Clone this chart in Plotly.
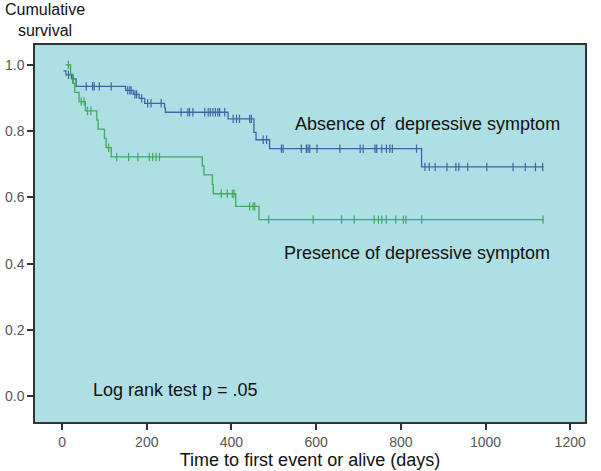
import plotly.graph_objects as go

# ---- Data ----
# Absence of depressive symptom (blue): step times (days) and survival after each step
absent_times = [3, 9, 22, 33, 150, 168, 182, 195, 242, 244, 392, 453, 458, 490, 849]
absent_surv = [0.982, 0.970, 0.958, 0.935, 0.923, 0.911, 0.899, 0.884, 0.870, 0.857,
               0.837, 0.796, 0.774, 0.747, 0.692]
absent_end = 1137
absent_censored = [15, 26, 57, 72, 76, 88, 116, 155, 160, 163, 172, 176, 188, 202, 210, 234,
                   281, 297, 301, 309, 337, 345, 350, 356, 362, 368, 372, 384,
                   404, 412, 419, 443, 447, 475, 483,
                   518, 522, 565, 577, 581, 585, 602, 656, 704, 711, 739, 743, 755, 766,
                   774, 780, 837,
                   857, 867, 881, 909, 930, 937, 958, 1003, 1065, 1094, 1118, 1135]

# Presence of depressive symptom (green)
present_times = [8, 20, 25, 30, 40, 55, 82, 85, 100, 104, 116, 331, 335, 355, 357, 410, 465]
present_surv = [1.0, 0.972, 0.944, 0.917, 0.889, 0.861, 0.833, 0.806, 0.778, 0.750, 0.722,
                0.695, 0.668, 0.639, 0.611, 0.573, 0.533]
present_end = 1136
present_censored = [15, 45, 52, 60, 68, 110, 129, 157, 179, 206, 214, 222, 230,
                    376, 390, 402, 406, 443, 451, 455,
                    488, 593, 660, 690, 737, 747, 755, 766, 788, 806, 812, 849, 1136]

y_ticks = [0.0, 0.2, 0.4, 0.6, 0.8, 1.0]
x_ticks = [0, 200, 400, 600, 800, 1000, 1200]

BLUE = "#3F64A6"
GREEN = "#3DAA5C"
FONT = "Arial, Liberation Sans, sans-serif"


def surv_at(times, surv, t):
    s = surv[0]
    for ti, si in zip(times, surv):
        if ti <= t:
            s = si
    return s


fig = go.Figure()

for times, surv, end, cens, col, name in [
    (absent_times, absent_surv, absent_end, absent_censored, BLUE, "Absence"),
    (present_times, present_surv, present_end, present_censored, GREEN, "Presence"),
]:
    xs = list(times) + [end]
    ys = list(surv) + [surv[-1]]
    fig.add_trace(go.Scatter(x=xs, y=ys, mode="lines", line=dict(color=col, width=1.3, shape="hv"),
                             name=name, showlegend=False, hoverinfo="skip"))
    fig.add_trace(go.Scatter(x=cens, y=[surv_at(times, surv, t) for t in cens], mode="markers",
                             marker=dict(symbol="line-ns", size=6, line=dict(color=col, width=1.2)),
                             showlegend=False, hoverinfo="skip"))

fig.add_annotation(x=545, y=0.823, xref="x", yref="y", text="Absence of  depressive symptom",
                   showarrow=False, xanchor="left", yanchor="middle",
                   font=dict(family=FONT, size=18, color="#111"))
fig.add_annotation(x=519, y=0.432, xref="x", yref="y", text="Presence of depressive symptom",
                   showarrow=False, xanchor="left", yanchor="middle",
                   font=dict(family=FONT, size=18, color="#111"))
fig.add_annotation(x=69, y=0.018, xref="x", yref="y", text="Log rank test p = .05",
                   showarrow=False, xanchor="left", yanchor="middle",
                   font=dict(family=FONT, size=18, color="#111"))
fig.add_annotation(x=0.018, y=1.067, xref="paper", yref="paper", text="Cumulative<br>survival",
                   showarrow=False, xanchor="center", yanchor="middle", align="center",
                   font=dict(family=FONT, size=16, color="#111"))

fig.update_layout(
    width=601, height=471,
    margin=dict(l=35, r=16, t=45, b=49),
    paper_bgcolor="white",
    plot_bgcolor="#AEDFE4",
    font=dict(family=FONT, color="#444"),
    showlegend=False,
)
fig.update_xaxes(range=[-64, 1235], tickvals=x_ticks, ticktext=[str(v) for v in x_ticks],
                 ticks="outside", ticklen=6, tickcolor="#333", tickwidth=1.5, automargin=False,
                 showgrid=False, zeroline=False, showline=True, linecolor="#333", linewidth=1.5,
                 mirror=True, tickfont=dict(family=FONT, size=14, color="#555"),
                 title=dict(text="Time to first event or alive (days)",
                            font=dict(family=FONT, size=18, color="#111"), standoff=0))
fig.update_yaxes(range=[-0.078, 1.06], tickvals=y_ticks, ticktext=[f"{v:.1f}" for v in y_ticks],
                 ticks="outside", ticklen=6, tickcolor="#333", tickwidth=1.5, automargin=False,
                 showgrid=False, zeroline=False, showline=True, linecolor="#333", linewidth=1.5,
                 mirror=True, tickfont=dict(family=FONT, size=14, color="#555"))

fig.write_html("out.html", config={"displayModeBar": False},
               post_script="document.body.style.margin='0';document.body.style.overflow='hidden';")
